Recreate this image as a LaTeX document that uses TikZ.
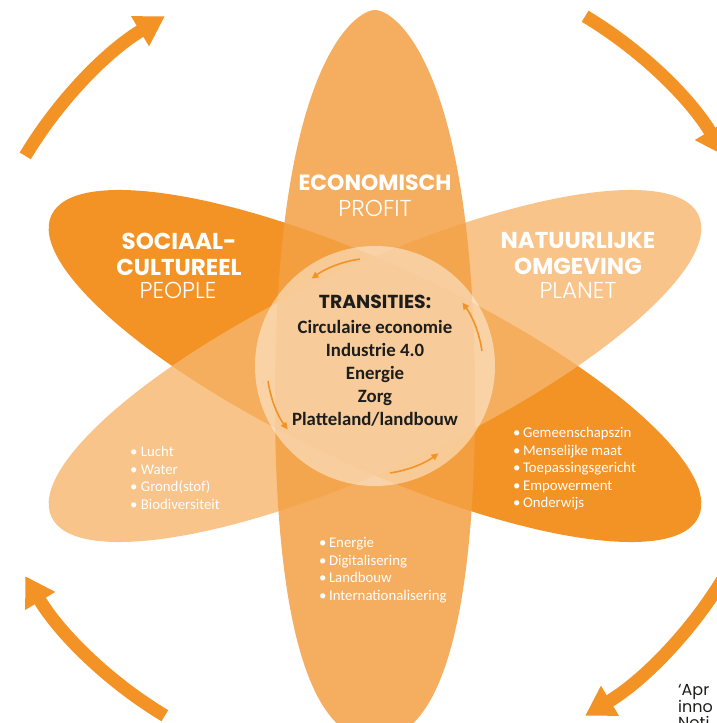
\documentclass[tikz,border=0pt]{standalone}
\usepackage{fontspec}
\setmainfont{Carlito}
\newfontfamily\kopletter{Poppins}
\newfontfamily\dunletter{Poppins Light}
\usepackage{tikz}
\usetikzlibrary{arrows.meta,positioning}
\definecolor{oranje}{HTML}{F39325}
\definecolor{licht}{HTML}{F6B56D}
\definecolor{midden}{HTML}{F3A145}
\definecolor{inkt}{HTML}{1D1D1B}
\tikzset{
kop/.style={text=white,align=center,inner sep=0pt,font=\kopletter\bfseries\fontsize{23}{26}\selectfont},
sub/.style={text=white,inner sep=0pt,font=\dunletter\fontsize{23}{26}\selectfont},
lijst/.style={text=white,align=left,anchor=west,inner sep=0pt,font=\fontsize{14.8}{17.5}\selectfont},
pijl/.style={draw=oranje,line width=13pt,-{Triangle[length=29pt,width=33pt]}},
klein/.style={draw=oranje,line width=1.6pt,-{Triangle[length=7pt,width=6.5pt]}}
}

\begin{document}
\begin{tikzpicture}[x=1pt,y=1pt]
\useasboundingbox (-375,-357) rectangle (342,366);
\coordinate (m) at (0,0);
\fill[oranje,rotate=-25] (m) ellipse (357 and 100);
\fill[licht,fill opacity=0.8,rotate=25] (m) ellipse (357 and 100);
\fill[midden,fill opacity=0.86] (0,356) .. controls (20,356) and (100,300) .. (100,-34)
  .. controls (100,-238) and (70,-374) .. (0,-374)
  .. controls (-70,-374) and (-100,-238) .. (-100,-34)
  .. controls (-100,300) and (-20,356) .. (0,356) -- cycle;
\fill[white,fill opacity=0.45] (m) circle (120);
\foreach \h in {8,98,188,278}
  \draw[klein] ([shift={(\h:108)}]m) arc[start angle=\h,end angle=\h+28,radius=108];
\foreach \h in {59,149,239,329}
  \draw[pijl] ([shift={(\h:408)}]m) arc[start angle=\h,end angle=\h-28,radius=408];
\node[kop,font=\kopletter\bfseries\fontsize{22}{26}\selectfont] at (0,183) (econ) {ECONOMISCH};
\node[sub] at (0,158) (profit) {PROFIT};
\node[kop] at (-196,112) (sociaal) {SOCIAAL-\\CULTUREEL};
\node[sub] at (-197,76) (people) {PEOPLE};
\node[kop] at (203,112) (natuur) {NATUURLIJKE\\OMGEVING};
\node[sub] at (203,76) (planet) {PLANET};
\node[text=inkt,inner sep=0pt,font=\kopletter\bfseries\fontsize{18.8}{20}\selectfont] at (0,64) (trans) {TRANSITIES:};
\node[text=inkt,align=center,inner sep=0pt,font=\bfseries\fontsize{18.8}{23}\selectfont] at (0,-7) (thema) {Circulaire economie\\Industrie 4.0\\Energie\\Zorg\\Platteland/landbouw};
\node[lijst] at (-245,-112) (planeet) {• Lucht\\• Water\\• Grond(stof)\\• Biodiversiteit};
\node[lijst] at (138,-103) (mensen) {•\,Gemeenschapszin\\•\,Menselijke maat\\•\,Toepassingsgericht\\•\,Empowerment\\•\,Onderwijs};
\node[lijst] at (-56,-204) (winst) {•\,Energie\\•\,Digitalisering\\•\,Landbouw\\•\,Internationalisering};
\node[text=inkt,align=left,anchor=north west,inner sep=0pt,font=\kopletter\fontsize{16}{15.5}\selectfont] at (303,-318) (rand) {‘Apr\\inno\\Noti};
\end{tikzpicture}
\end{document}
